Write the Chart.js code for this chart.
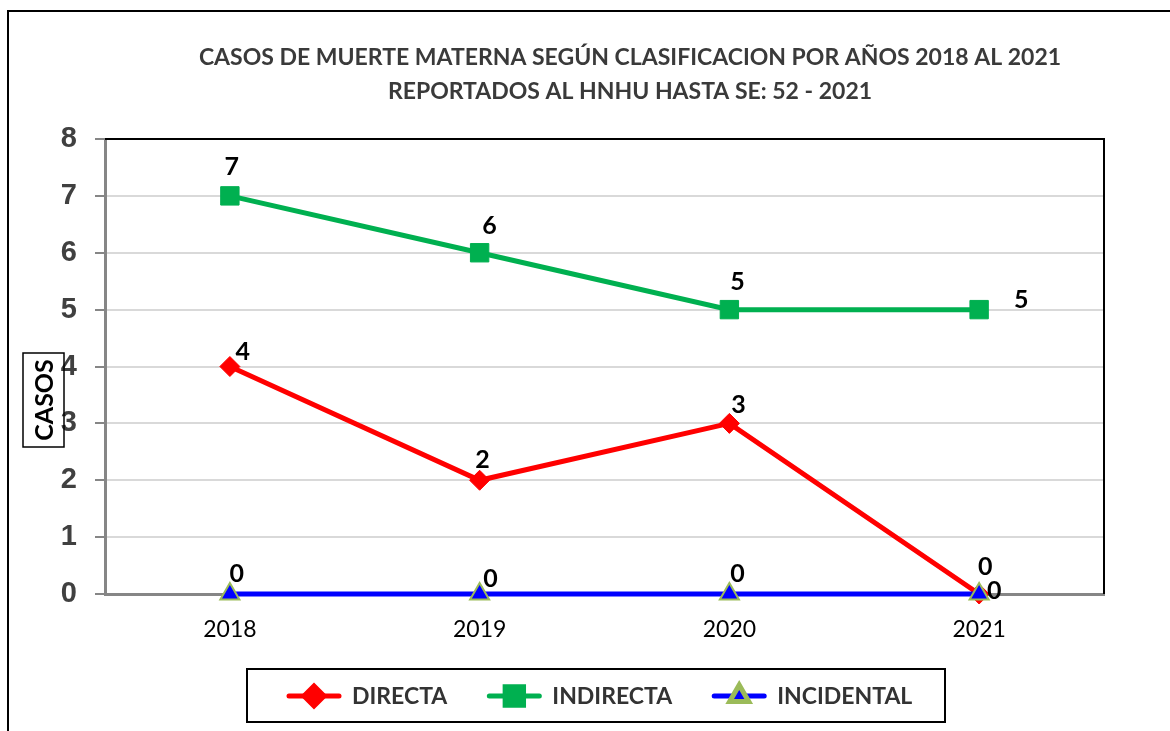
<!DOCTYPE html>
<html>
<head>
<meta charset="utf-8">
<script src="https://cdn.jsdelivr.net/npm/chart.js@4.4.1/dist/chart.umd.min.js"></script>
<style>
  html, body { margin: 0; padding: 0; background: #fff; }
  #wrap { width: 1170px; height: 731px; position: relative; }
</style>
</head>
<body>
<div id="wrap"><canvas id="chart"></canvas></div>
<script>
const years = ["2018", "2019", "2020", "2021"];
const directa = [4, 2, 3, 0];
const indirecta = [7, 6, 5, 5];
const incidental = [0, 0, 0, 0];
const yTicks = [0, 1, 2, 3, 4, 5, 6, 7, 8];
const titleLines = [
  "CASOS DE MUERTE MATERNA SEGÚN CLASIFICACION POR AÑOS 2018 AL 2021",
  "REPORTADOS AL HNHU HASTA SE: 52 - 2021",
];
const yTitle = "CASOS";

// where each value label sits relative to its point
const labelOffsets = {
  DIRECTA: [[13, -15], [3, -20], [9, -18], [15, -3]],
  INDIRECTA: [[2, -29], [10, -27], [8, -28], [42, -10]],
  INCIDENTAL: [[7, -20], [11, -15], [8, -20], [6, -27]],
};

const decorations = {
  id: "decorations",
  afterDraw(chart) {
    const ctx = chart.ctx;
    const area = chart.chartArea;
    ctx.save();

    // outer frame
    ctx.strokeStyle = "#000";
    ctx.lineWidth = 2;
    ctx.beginPath();
    ctx.moveTo(8, 740);
    ctx.lineTo(8, 11);
    ctx.lineTo(1175, 11);
    ctx.stroke();

    // plot area top / right edge
    ctx.lineWidth = 2;
    ctx.beginPath();
    ctx.moveTo(area.left, area.top);
    ctx.lineTo(area.right, area.top);
    ctx.lineTo(area.right, area.bottom);
    ctx.stroke();

    // title
    ctx.fillStyle = "#3a3a3a";
    ctx.font = "bold 23px Lato";
    ctx.textAlign = "center";
    ctx.textBaseline = "middle";
    ctx.fillText(titleLines[0], 630, 58);
    ctx.fillText(titleLines[1], 630, 92);

    // y axis title in a box
    ctx.strokeStyle = "#000";
    ctx.lineWidth = 1.5;
    ctx.strokeRect(23, 353, 41, 94);
    ctx.save();
    ctx.translate(44, 400);
    ctx.rotate(-Math.PI / 2);
    ctx.fillStyle = "#000";
    ctx.font = "bold 25px Lato";
    ctx.fillText(yTitle, 0, 1);
    ctx.restore();

    // value labels
    ctx.font = "bold 25px Lato";
    ctx.fillStyle = "#000";
    chart.data.datasets.forEach((ds, i) => {
      const meta = chart.getDatasetMeta(i);
      const offs = labelOffsets[ds.label];
      meta.data.forEach((pt, j) => {
        const [dx, dy] = offs[j];
        ctx.fillText(String(ds.data[j]), pt.x + dx, pt.y + dy);
      });
    });

    // legend
    ctx.lineWidth = 2;
    ctx.strokeStyle = "#000";
    ctx.strokeRect(247, 669, 698, 53);
    let x = 289;
    const ly = 696;
    ctx.font = "bold 23px Lato";
    ctx.textAlign = "left";
    chart.data.datasets.forEach((ds) => {
      ctx.strokeStyle = ds.borderColor;
      ctx.lineWidth = 5;
      ctx.lineCap = "round";
      ctx.beginPath();
      ctx.moveTo(x, ly);
      ctx.lineTo(x + 50, ly);
      ctx.stroke();
      ctx.fillStyle = ds.pointBackgroundColor;
      ctx.strokeStyle = ds.pointBorderColor;
      Chart.helpers.drawPoint(ctx, {
        pointStyle: ds.pointStyle,
        radius: ds.pointRadius,
        borderWidth: ds.pointBorderWidth,
        rotation: 0,
      }, x + 25, ly);
      ctx.fillStyle = "#333";
      ctx.fillText(ds.label, x + 63, ly + 1);
      x += 63 + ctx.measureText(ds.label).width + 42;
    });

    ctx.restore();
  },
};

new Chart(document.getElementById("chart"), {
  type: "line",
  data: {
    labels: years,
    datasets: [
      {
        label: "DIRECTA",
        data: directa,
        borderColor: "#ff0000",
        borderWidth: 5,
        pointStyle: "rectRot",
        pointRadius: 10,
        pointBackgroundColor: "#ff0000",
        pointBorderColor: "#ff0000",
        pointBorderWidth: 1,
        tension: 0,
        clip: false,
        order: 3,
      },
      {
        label: "INDIRECTA",
        data: indirecta,
        borderColor: "#00b050",
        borderWidth: 5,
        pointStyle: "rect",
        pointRadius: 13,
        pointBackgroundColor: "#00b050",
        pointBorderColor: "#00b050",
        pointBorderWidth: 1,
        tension: 0,
        clip: false,
        order: 2,
      },
      {
        label: "INCIDENTAL",
        data: incidental,
        borderColor: "#0000ff",
        borderWidth: 5,
        pointStyle: "triangle",
        pointRadius: 11,
        pointBackgroundColor: "#0000ff",
        pointBorderColor: "#9bbb59",
        pointBorderWidth: 2,
        tension: 0,
        clip: false,
        order: 1,
      },
    ],
  },
  options: {
    responsive: true,
    maintainAspectRatio: false,
    animation: false,
    layout: { padding: { top: 139, right: 66, bottom: 87, left: 0 } },
    plugins: {
      legend: { display: false },
      title: { display: false },
      tooltip: { enabled: false },
    },
    scales: {
      x: {
        offset: true,
        grid: { display: false, drawTicks: false },
        border: { color: "#868686", width: 3 },
        ticks: {
          color: "#000",
          padding: 22,
          font: { family: "Lato", size: 23 },
        },
        afterFit(scale) { scale.height = 50; },
      },
      y: {
        min: yTicks[0],
        max: yTicks[yTicks.length - 1],
        afterBuildTicks(scale) { scale.ticks = yTicks.map((v) => ({ value: v })); },
        grid: { color: "#d9d9d9", lineWidth: 2, tickLength: 10, tickColor: "#868686" },
        border: { color: "#868686", width: 3 },
        ticks: {
          color: "#404040",
          padding: 18,
          font: { family: "Liberation Sans", size: 29, weight: "bold" },
        },
        afterFit(scale) { scale.width = 105; },
      },
    },
  },
  plugins: [decorations],
});
</script>
</body>
</html>
